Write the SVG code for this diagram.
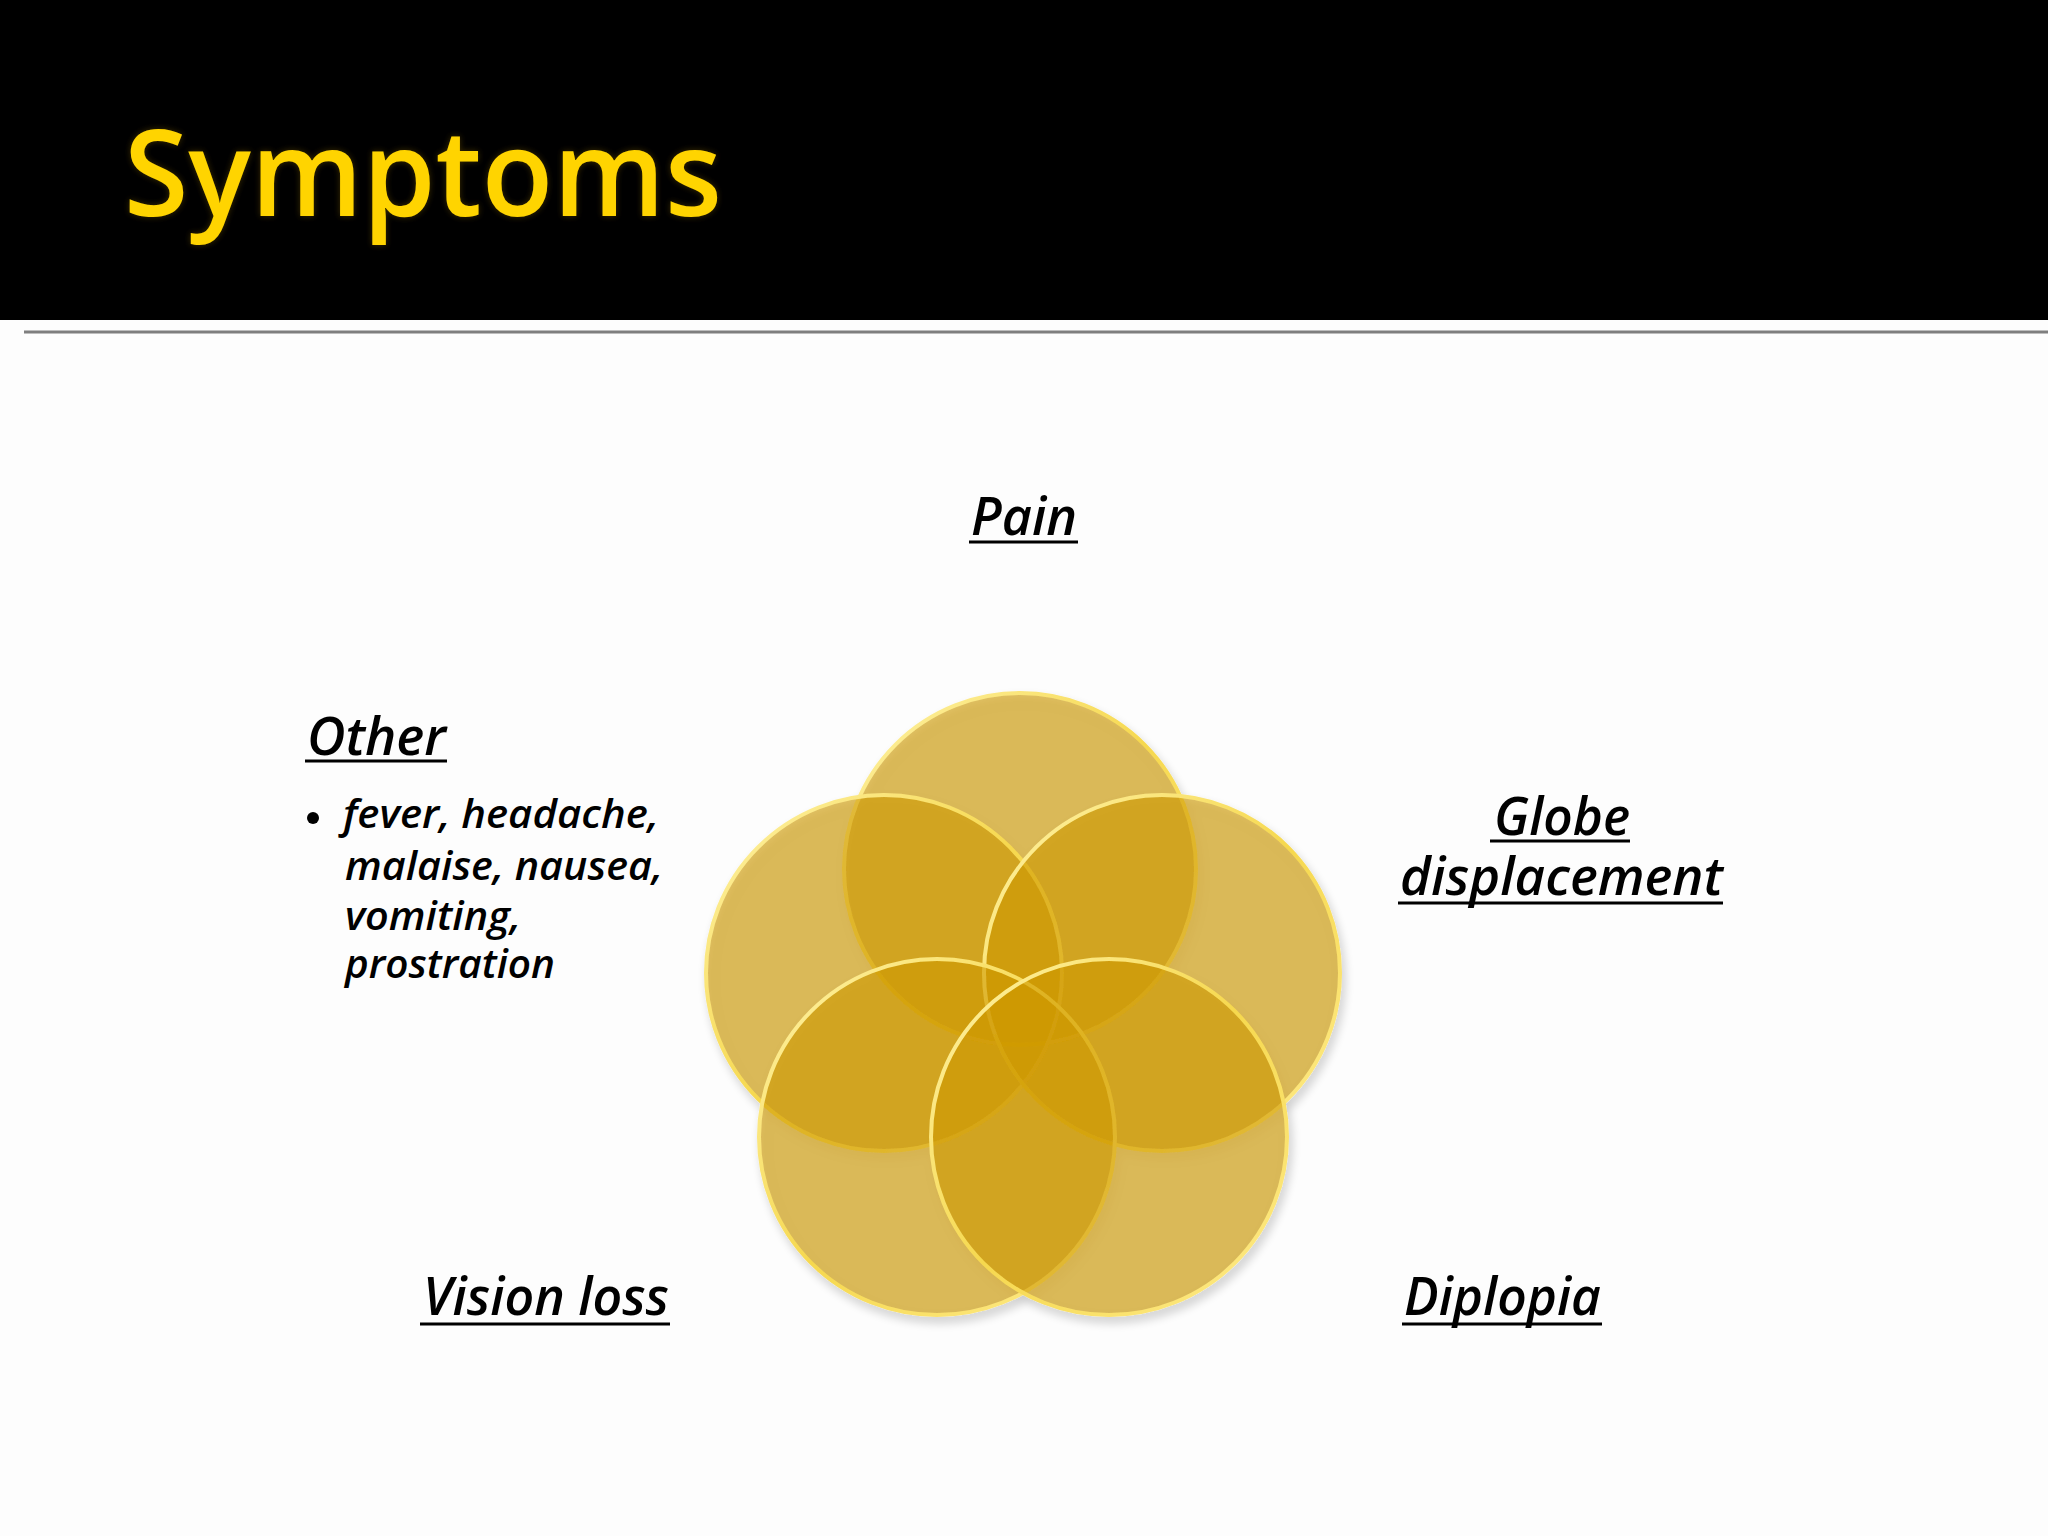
<svg xmlns="http://www.w3.org/2000/svg" width="2048" height="1536" viewBox="0 0 2048 1536">
  <defs>
    <style>
      .title { font-family: "Open Sans", "Noto Sans", "Liberation Sans", sans-serif; font-size: 119px; font-weight: 600; fill: #FFD400; }
      .label { font-family: "Open Sans", "Noto Sans", "Liberation Sans", sans-serif; font-size: 53px; font-style: italic; font-weight: 600; fill: #000; }
      .body { font-family: "Open Sans", "Noto Sans", "Liberation Sans", sans-serif; font-size: 40px; font-style: italic; font-weight: 600; fill: #000; }
      .disc { fill: rgb(207,153,2); fill-opacity: 0.6; stroke: url(#rim); stroke-width: 4; }
      .ul { stroke: #000; stroke-width: 3; }
    </style>
    <linearGradient id="rim" x1="0" y1="0" x2="1" y2="1">
      <stop offset="0" stop-color="#FFF3A8"/>
      <stop offset="0.5" stop-color="#F6D84E"/>
      <stop offset="1" stop-color="#FFEC8C"/>
    </linearGradient>
    <filter id="shadow" x="-20%" y="-20%" width="140%" height="140%">
      <feGaussianBlur in="SourceAlpha" stdDeviation="5"/>
      <feOffset dx="3" dy="6" result="b"/>
      <feComponentTransfer><feFuncA type="linear" slope="0.22"/></feComponentTransfer>
      <feMerge><feMergeNode/><feMergeNode in="SourceGraphic"/></feMerge>
    </filter>
    <filter id="glow" x="-10%" y="-20%" width="120%" height="140%">
      <feGaussianBlur in="SourceAlpha" stdDeviation="3" result="b"/>
      <feFlood flood-color="#7a5a00" flood-opacity="0.5"/>
      <feComposite in2="b" operator="in"/>
      <feMerge><feMergeNode/><feMergeNode in="SourceGraphic"/></feMerge>
    </filter>
  </defs>

  <rect x="0" y="0" width="2048" height="1536" fill="#FDFDFD"/>
  <rect x="0" y="0" width="2048" height="320" fill="#000"/>
  <line x1="24" y1="332" x2="2048" y2="332" stroke="#7F7F7F" stroke-width="3"/>

  <g id="title">
    <text class="title" x="124" y="216" textLength="598" lengthAdjust="spacingAndGlyphs" filter="url(#glow)">Symptoms</text>
  </g>

  <g id="circles" filter="url(#shadow)">
    <circle id="circle-top" class="disc" cx="1020" cy="869" r="176"/>
    <circle id="circle-left" class="disc" cx="884" cy="973" r="178"/>
    <circle id="circle-right" class="disc" cx="1162" cy="973" r="178"/>
    <circle id="circle-bottom-left" class="disc" cx="937" cy="1137" r="178"/>
    <circle id="circle-bottom-right" class="disc" cx="1109" cy="1137" r="178"/>
  </g>

  <g id="label-pain">
    <text class="label" x="971" y="535" textLength="106" lengthAdjust="spacingAndGlyphs">Pain</text>
    <line class="ul" x1="969" y1="542" x2="1078" y2="542"/>
  </g>

  <g id="label-globe">
    <text class="label" x="1494" y="835" textLength="136" lengthAdjust="spacingAndGlyphs">Globe</text>
    <line class="ul" x1="1490" y1="841" x2="1630" y2="841"/>
    <text class="label" x="1400" y="895" textLength="323" lengthAdjust="spacingAndGlyphs">displacement</text>
    <line class="ul" x1="1398" y1="903" x2="1723" y2="903"/>
  </g>

  <g id="label-diplopia">
    <text class="label" x="1404" y="1315" textLength="197" lengthAdjust="spacingAndGlyphs">Diplopia</text>
    <line class="ul" x1="1402" y1="1324" x2="1602" y2="1324"/>
  </g>

  <g id="label-vision">
    <text class="label" x="423" y="1315" textLength="246" lengthAdjust="spacingAndGlyphs">Vision loss</text>
    <line class="ul" x1="420" y1="1324" x2="670" y2="1324"/>
  </g>

  <g id="label-other">
    <text class="label" x="307" y="755" textLength="139" lengthAdjust="spacingAndGlyphs">Other</text>
    <line class="ul" x1="305" y1="761" x2="447" y2="761"/>
    <circle cx="313" cy="818" r="6" fill="#000"/>
    <text class="body" x="343" y="828" textLength="316" lengthAdjust="spacingAndGlyphs">fever, headache,</text>
    <text class="body" x="345" y="880" textLength="318" lengthAdjust="spacingAndGlyphs">malaise, nausea,</text>
    <text class="body" x="345" y="930" textLength="176" lengthAdjust="spacingAndGlyphs">vomiting,</text>
    <text class="body" x="345" y="978" textLength="210" lengthAdjust="spacingAndGlyphs">prostration</text>
  </g>
</svg>
